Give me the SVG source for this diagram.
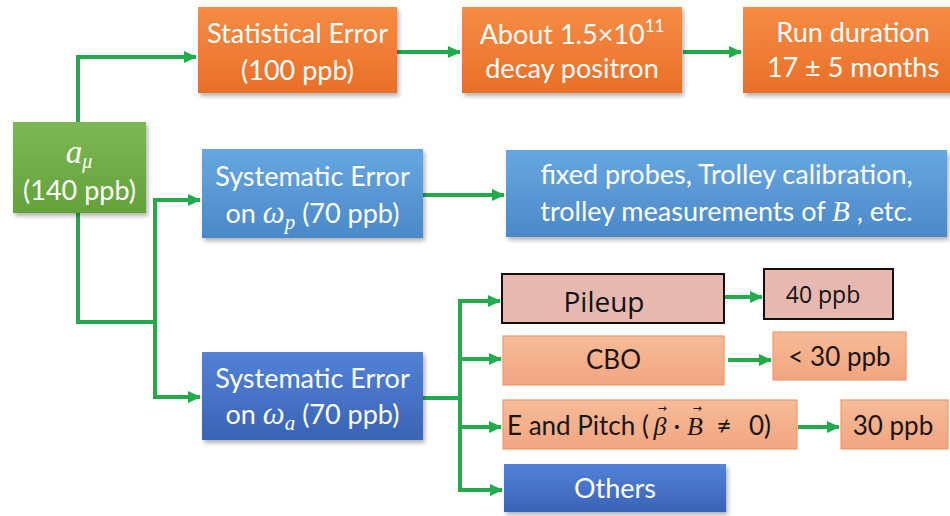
<svg xmlns="http://www.w3.org/2000/svg" width="950" height="516" viewBox="0 0 950 516">
  <defs>
    <linearGradient id="gOrange" x1="0" y1="0" x2="0" y2="1">
      <stop offset="0" stop-color="#f68c45"/>
      <stop offset="1" stop-color="#e96f27"/>
    </linearGradient>
    <linearGradient id="gGreen" x1="0" y1="0" x2="0" y2="1">
      <stop offset="0" stop-color="#7db855"/>
      <stop offset="1" stop-color="#64a23b"/>
    </linearGradient>
    <linearGradient id="gLightBlue" x1="0" y1="0" x2="0" y2="1">
      <stop offset="0" stop-color="#66a7e1"/>
      <stop offset="1" stop-color="#4b89c8"/>
    </linearGradient>
    <linearGradient id="gDarkBlue" x1="0" y1="0" x2="0" y2="1">
      <stop offset="0" stop-color="#5282d8"/>
      <stop offset="1" stop-color="#3a63b6"/>
    </linearGradient>
    <linearGradient id="gSalmon" x1="0" y1="0" x2="0" y2="1">
      <stop offset="0" stop-color="#f7bb98"/>
      <stop offset="1" stop-color="#f2a580"/>
    </linearGradient>
    <filter id="shadow" x="-10%" y="-10%" width="125%" height="135%">
      <feDropShadow dx="2" dy="3" stdDeviation="2" flood-color="#000" flood-opacity="0.3"/>
    </filter>
    <marker id="arrow" markerUnits="userSpaceOnUse" markerWidth="13" markerHeight="12" refX="12" refY="6" orient="auto">
      <path d="M0,0 L13,6 L0,12 z" fill="#22ab4c"/>
    </marker>
    <style>
      .conn { fill: none; stroke: #22ab4c; stroke-width: 4; }
      .orange { fill: url(#gOrange); filter: url(#shadow); }
      .green { fill: url(#gGreen); filter: url(#shadow); }
      .lblue { fill: url(#gLightBlue); filter: url(#shadow); }
      .dblue { fill: url(#gDarkBlue); filter: url(#shadow); }
      .pink { fill: #e7b8b0; stroke: #111; stroke-width: 2; }
      .salmon { fill: url(#gSalmon); stroke: #ee9a6c; stroke-width: 1.2; }
      .w { font-family: Lato, "Liberation Sans", sans-serif; font-size: 27px; fill: #fff; text-anchor: middle; }
      .k { font-family: Lato, "Liberation Sans", sans-serif; font-size: 26px; fill: #1c1410; text-anchor: middle; }
      .start { text-anchor: start; }
      .ks { font-family: "Open Sans", "Noto Sans", sans-serif; fill: #111; text-anchor: middle; }
      .m { font-family: "Liberation Serif", "DejaVu Serif", serif; font-style: italic; }
      .vec { font-family: "DejaVu Sans", sans-serif; font-size: 11px; fill: #1c1410; text-anchor: middle; }
    </style>
  </defs>

  <rect width="950" height="516" fill="#fff"/>

  <!-- connectors -->
  <g id="connectors">
    <path class="conn" d="M78,122 V57 H196" marker-end="url(#arrow)"/>
    <path class="conn" d="M397,52 H460" marker-end="url(#arrow)"/>
    <path class="conn" d="M683,52 H741" marker-end="url(#arrow)"/>
    <path class="conn" d="M78,213 V322 H155"/>
    <path class="conn" d="M155,322 V200 H200" marker-end="url(#arrow)"/>
    <path class="conn" d="M155,320 V397 H200" marker-end="url(#arrow)"/>
    <path class="conn" d="M423,195 H504" marker-end="url(#arrow)"/>
    <path class="conn" d="M423,398 H460"/>
    <path class="conn" d="M460,299 V492"/>
    <path class="conn" d="M458,301 H500" marker-end="url(#arrow)"/>
    <path class="conn" d="M458,359 H501" marker-end="url(#arrow)"/>
    <path class="conn" d="M458,427 H501" marker-end="url(#arrow)"/>
    <path class="conn" d="M458,490 H502" marker-end="url(#arrow)"/>
    <path class="conn" d="M725,297 H762" marker-end="url(#arrow)"/>
    <path class="conn" d="M728,360 H771" marker-end="url(#arrow)"/>
    <path class="conn" d="M798,427 H839" marker-end="url(#arrow)"/>
  </g>

  <!-- a_mu total -->
  <g id="amu">
    <rect class="green" x="13" y="122" width="133" height="91"/>
    <text class="w" x="79" y="163"><tspan class="m" font-size="33">a</tspan><tspan class="m" font-size="20" dy="5">μ</tspan></text>
    <text class="w" x="79.5" y="200">(140 ppb)</text>
  </g>

  <!-- statistical branch -->
  <g id="statistical">
    <rect class="orange" x="198" y="7" width="199" height="86"/>
    <text class="w" x="297.5" y="43">Statistical Error</text>
    <text class="w" x="297.5" y="80">(100 ppb)</text>
  </g>
  <g id="positrons">
    <rect class="orange" x="462" y="7" width="220" height="86"/>
    <text class="w" x="572" y="44" font-size="26">About 1.5×10<tspan font-size="17" dy="-12">11</tspan></text>
    <text class="w" x="572" y="78">decay positron</text>
  </g>
  <g id="duration">
    <rect class="orange" x="743" y="7" width="220" height="86"/>
    <text class="w" x="853" y="42">Run duration</text>
    <text class="w" x="853" y="77">17 ± 5 months</text>
  </g>

  <!-- omega_p branch -->
  <g id="omega-p">
    <rect class="lblue" x="202" y="149" width="221" height="89"/>
    <text class="w" x="312.5" y="186">Systematic Error</text>
    <text class="w" x="312.5" y="223">on <tspan class="m" font-size="31">ω</tspan><tspan class="m" font-size="21" dy="6">p</tspan><tspan dy="-6"> (70 ppb)</tspan></text>
  </g>
  <g id="field">
    <rect class="lblue" x="506" y="150" width="441" height="87"/>
    <text class="w" x="726.5" y="184">fixed probes, Trolley calibration,</text>
    <text class="w" x="726.5" y="221">trolley measurements of <tspan class="m" font-size="29">B</tspan> , etc.</text>
  </g>

  <!-- omega_a branch -->
  <g id="omega-a">
    <rect class="dblue" x="202" y="352" width="221" height="88"/>
    <text class="w" x="312.5" y="388">Systematic Error</text>
    <text class="w" x="312.5" y="424">on <tspan class="m" font-size="31">ω</tspan><tspan class="m" font-size="21" dy="6">a</tspan><tspan dy="-6"> (70 ppb)</tspan></text>
  </g>

  <g id="pileup">
    <rect class="pink" x="502" y="274" width="222" height="49"/>
    <text class="ks" x="604" y="312" font-size="28">Pileup</text>
  </g>
  <g id="pileup-value">
    <rect class="pink" x="764" y="269" width="129" height="50"/>
    <text class="ks" x="823" y="303" font-size="23">40 ppb</text>
  </g>

  <g id="cbo">
    <rect class="salmon" x="503" y="336" width="221" height="49"/>
    <text class="k" x="613.5" y="369" font-size="24">CBO</text>
  </g>
  <g id="cbo-value">
    <rect class="salmon" x="773" y="332" width="133" height="48"/>
    <text class="k" x="839.5" y="366">&lt; 30 ppb</text>
  </g>

  <g id="pitch">
    <rect class="salmon" x="503" y="400" width="294" height="49"/>
    <text class="k start" x="507" y="435" font-size="25">E and Pitch (</text>
    <text class="k m" x="660" y="435" font-size="28">β</text>
    <text class="vec" x="662" y="412">→</text>
    <text class="k" x="677" y="435">·</text>
    <text class="k m" x="695" y="435" font-size="28">B</text>
    <text class="vec" x="697" y="412">→</text>
    <text class="k" x="724" y="435">≠</text>
    <text class="k" x="760" y="435">0)</text>
  </g>
  <g id="pitch-value">
    <rect class="salmon" x="841" y="400" width="107" height="49"/>
    <text class="k" x="893" y="435" font-size="27">30 ppb</text>
  </g>

  <g id="others">
    <rect class="dblue" x="504" y="464" width="222" height="48"/>
    <text class="w" x="615" y="498">Others</text>
  </g>
</svg>
